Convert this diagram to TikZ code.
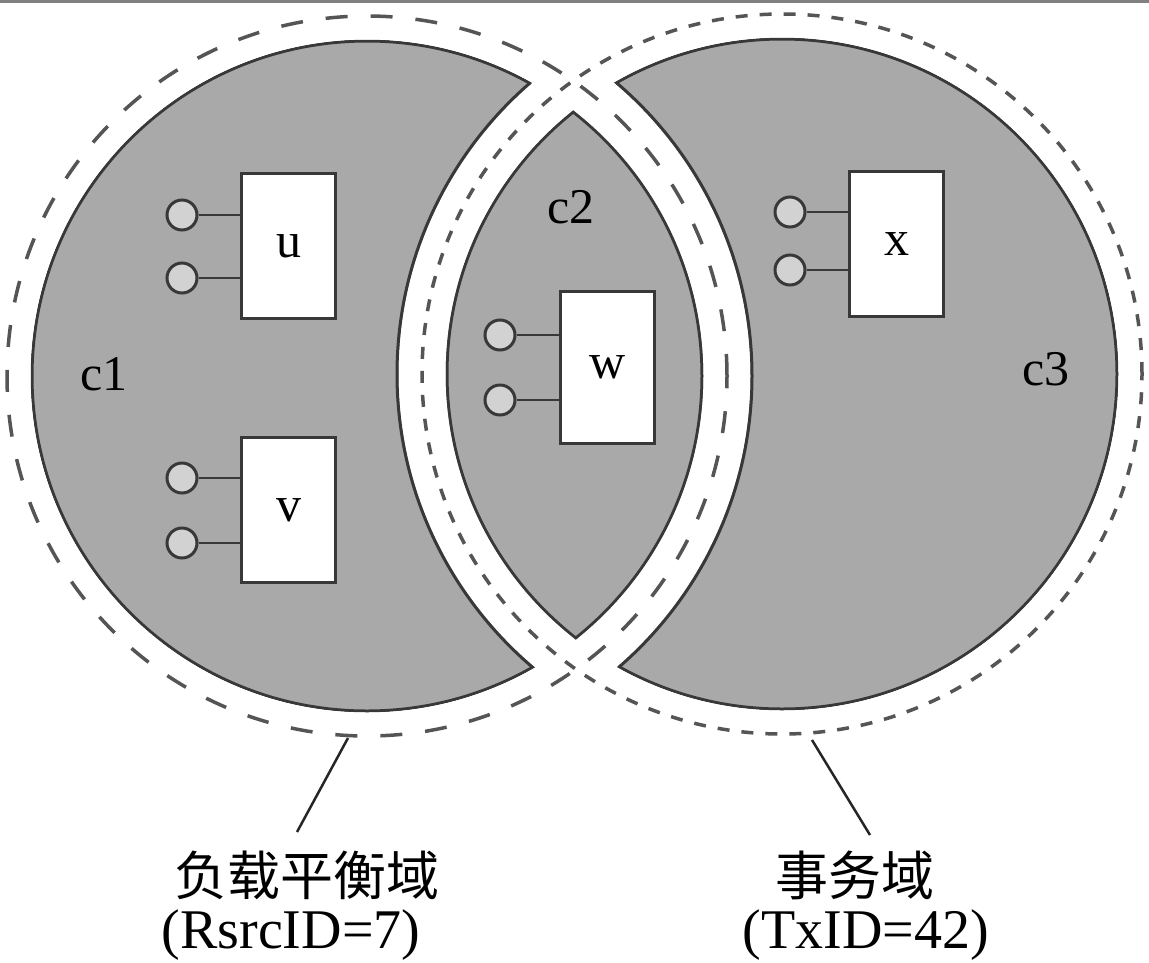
\documentclass[tikz,border=0pt]{standalone}
\usepackage{fontspec}
\setmainfont{Liberation Serif}
\newfontfamily\cjk{Noto Sans CJK SC}
\usepackage{xcolor}
\usetikzlibrary{positioning, calc}

\definecolor{regiongray}{HTML}{A9A9A9}
\definecolor{portgray}{HTML}{D2D2D2}
\definecolor{edgegray}{HTML}{383838}
\definecolor{dashgray}{HTML}{555555}

\begin{document}
\begin{tikzpicture}[
    x=1pt, y=-1pt,
    % Vùng xám và dải trắng
    edge/.style={draw=edgegray, line width=3pt},
    band/.style={draw=white, line width=47pt},
    % Hai miền nét đứt
    lbdomain/.style={draw=dashgray, line width=3.5pt, dash pattern=on 22pt off 23pt},
    txdomain/.style={draw=dashgray, line width=3.5pt, dash pattern=on 12pt off 12pt},
    % Thành phần, cổng và dây nối
    comp/.style={draw=edgegray, fill=white, line width=3pt, minimum width=94pt,
        minimum height=145pt, inner sep=0pt, font=\fontsize{50}{50}\selectfont},
    port/.style={circle, draw=edgegray, fill=portgray, line width=3pt,
        minimum size=30pt, inner sep=0pt},
    wire/.style={draw=edgegray, line width=2pt},
    % Nhãn
    cname/.style={anchor=base, inner sep=0pt, font=\fontsize{50}{50}\selectfont},
    cjklbl/.style={inner sep=0pt, font=\cjk\fontsize{53}{53}\selectfont},
    idlbl/.style={anchor=base, inner sep=0pt, font=\fontsize{56}{56}\selectfont},
    leader/.style={draw=black!85, line width=2.5pt}
]
\useasboundingbox (0,0) rectangle (1149,962);

% Tâm hai miền
\coordinate (lbc) at (367,376);
\coordinate (txc) at (782,374);

% Nền xám c1, c2, c3
\fill[regiongray] (lbc) circle[radius=335pt];
\fill[regiongray] (txc) circle[radius=335pt];
\draw[edge] (lbc) circle[radius=335pt];
\draw[edge] (txc) circle[radius=335pt];

% Dải trắng dọc theo biên hai miền
\draw[band] (lbc) circle[radius=360pt];
\draw[band] (txc) circle[radius=360pt];
\begin{scope}
    \clip (txc) circle[radius=335pt];
    \draw[edge] (lbc) circle[radius=385pt]; % mép trái của c3
\end{scope}
\begin{scope}
    \clip (lbc) circle[radius=335pt];
    \draw[edge] (txc) circle[radius=385pt]; % mép phải của c1
\end{scope}

% Đường biên nét đứt
\draw[lbdomain] (lbc) circle[radius=360pt];
\draw[txdomain] (txc) circle[radius=360pt];

% Viền trên của hình
\draw[gray, line width=3pt] (0,1.5) -- (1149,1.5);

% Tên các vùng
\node[cname] (c1) at (104,390) {c1};
\node[cname] (c2) at (571,223) {c2};
\node[cname] (c3) at (1046,385) {c3};

% Thành phần u
\node[comp] (u) at (288.5,246) {u};
\node[port] (u1) at (182,215) {};
\node[port] (u2) at (182,278) {};
\draw[wire] (u1) -- (u1 -| u.west);
\draw[wire] (u2) -- (u2 -| u.west);

% Thành phần v
\node[comp] (v) at (288.5,510) {v};
\node[port] (v1) at (182,478) {};
\node[port] (v2) at (182,543) {};
\draw[wire] (v1) -- (v1 -| v.west);
\draw[wire] (v2) -- (v2 -| v.west);

% Thành phần w
\node[comp, minimum height=152pt] (w) at (607.5,367.5) {w};
\node[port] (w1) at (500,335) {};
\node[port] (w2) at (500,400) {};
\draw[wire] (w1) -- (w1 -| w.west);
\draw[wire] (w2) -- (w2 -| w.west);

% Thành phần x
\node[comp] (x) at (896.5,244) {x};
\node[port] (x1) at (790,212) {};
\node[port] (x2) at (790,270) {};
\draw[wire] (x1) -- (x1 -| x.west);
\draw[wire] (x2) -- (x2 -| x.west);

% Chú thích hai miền
\node[cjklbl] (lbname) at (307,875) {负载平衡域};
\node[idlbl] (lbid) at (291,948) {(RsrcID=7)};
\node[cjklbl] (txname) at (855,875) {事务域};
\node[idlbl] (txid) at (866,948) {(TxID=42)};

\coordinate (lbtip) at (348,738);
\coordinate (lbfoot) at (297,832);
\coordinate (txtip) at (812,740);
\coordinate (txfoot) at (870,835);
\draw[leader] (lbtip) -- (lbfoot);
\draw[leader] (txtip) -- (txfoot);

\end{tikzpicture}
\end{document}
